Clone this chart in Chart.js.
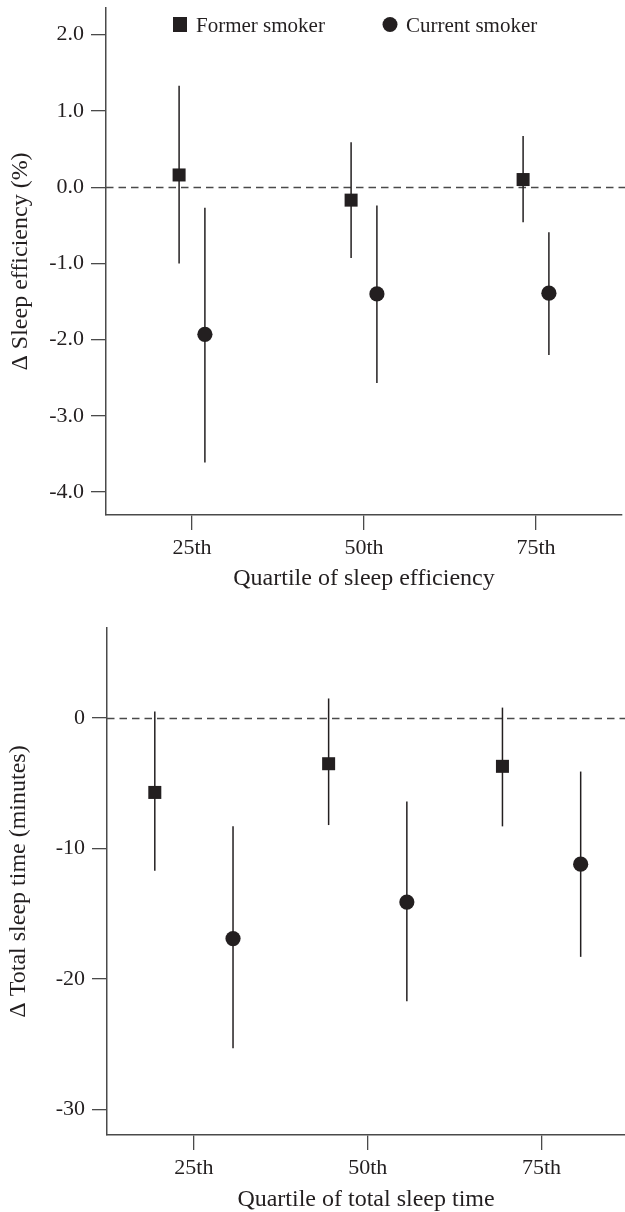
<!DOCTYPE html>
<html>
<head>
<meta charset="utf-8">
<script src="https://cdn.jsdelivr.net/npm/chart.js@4/dist/chart.umd.min.js"></script>
<style>
html, body { margin: 0; padding: 0; background: #fff; }
#top { position: absolute; left: 0; top: 0; width: 625px; height: 600px; }
#bottom { position: absolute; left: 0; top: 600px; width: 625px; height: 612px; }
</style>
</head>
<body>
<div id="top"><canvas id="effChart"></canvas></div>
<div id="bottom"><canvas id="tstChart"></canvas></div>
<script>
"use strict";

var quartiles = ['25th', '50th', '75th'];
var seriesNames = ['Former smoker', 'Current smoker'];

// change in sleep efficiency (%)
var effFormer = [0.16, -0.17, 0.10];
var effFormerLo = [-1.00, -0.93, -0.46];
var effFormerHi = [1.33, 0.59, 0.67];
var effCurrent = [-1.93, -1.40, -1.39];
var effCurrentLo = [-3.61, -2.57, -2.20];
var effCurrentHi = [-0.27, -0.24, -0.59];
var effTicks = [2, 1, 0, -1, -2, -3, -4];

// change in total sleep time (minutes)
var tstFormer = [-5.7, -3.5, -3.7];
var tstFormerLo = [-11.7, -8.2, -8.3];
var tstFormerHi = [0.5, 1.5, 0.8];
var tstCurrent = [-16.9, -14.1, -11.2];
var tstCurrentLo = [-25.3, -21.7, -18.3];
var tstCurrentHi = [-8.3, -6.4, -4.1];
var tstTicks = [0, -10, -20, -30];

var ink = '#231f20';
var axisGrey = '#4a4a4a';
var serif = 'Liberation Serif, Times New Roman, serif';

function points(vals, shift) {
    return vals.map(function (v, i) { return { x: i + 1 + shift, y: v }; });
}

function noPadding(s) {
    s.paddingTop = 0;
    s.paddingBottom = 0;
    s.paddingLeft = 0;
    s.paddingRight = 0;
}

// zero reference line + vertical confidence intervals
var errorBars = {
    id: 'errorBars',
    beforeDatasetsDraw: function (chart) {
        var ctx = chart.ctx, ys = chart.scales.y, area = chart.chartArea;
        ctx.save();
        ctx.strokeStyle = axisGrey;
        ctx.lineWidth = 1.3;
        ctx.setLineDash([7.5, 5]);
        var y0 = Math.round(ys.getPixelForValue(0)) + 0.5;
        ctx.beginPath();
        ctx.moveTo(area.left, y0);
        ctx.lineTo(chart.width, y0);
        ctx.stroke();
        ctx.setLineDash([]);
        ctx.strokeStyle = ink;
        ctx.lineWidth = 1.5;
        chart.data.datasets.forEach(function (ds, i) {
            chart.getDatasetMeta(i).data.forEach(function (pt, j) {
                ctx.beginPath();
                ctx.moveTo(pt.x, ys.getPixelForValue(ds.lo[j]));
                ctx.lineTo(pt.x, ys.getPixelForValue(ds.hi[j]));
                ctx.stroke();
            });
        });
        ctx.restore();
    }
};

// legend drawn inside the plot, above the top tick
var insideLegend = {
    id: 'insideLegend',
    afterDraw: function (chart, args, opts) {
        if (!opts.items) return;
        var ctx = chart.ctx;
        ctx.save();
        ctx.fillStyle = ink;
        ctx.font = '21px ' + serif;
        ctx.textBaseline = 'alphabetic';
        chart.data.datasets.forEach(function (ds, i) {
            var it = opts.items[i];
            ctx.beginPath();
            if (ds.pointStyle === 'rect') {
                ctx.rect(it.x - 7, it.y - 7.5, 14, 15);
            } else {
                ctx.arc(it.x, it.y, 7.5, 0, Math.PI * 2);
            }
            ctx.fill();
            ctx.fillText(ds.label, it.x + 16, it.y + 7.5);
        });
        ctx.restore();
    }
};

function makeChart(id, cfg) {
    var datasets = [
        {
            label: seriesNames[0],
            data: points(cfg.former, -cfg.shift),
            lo: cfg.formerLo, hi: cfg.formerHi,
            pointStyle: 'rect', pointRadius: 9.2,
            backgroundColor: ink, borderWidth: 0, showLine: false
        },
        {
            label: seriesNames[1],
            data: points(cfg.current, cfg.shift),
            lo: cfg.currentLo, hi: cfg.currentHi,
            pointStyle: 'circle', pointRadius: 7.6,
            backgroundColor: ink, borderWidth: 0, showLine: false
        }
    ];
    return new Chart(document.getElementById(id).getContext('2d'), {
        type: 'scatter',
        data: { datasets: datasets },
        plugins: [errorBars, insideLegend],
        options: {
            responsive: true,
            maintainAspectRatio: false,
            animation: false,
            devicePixelRatio: 1,
            events: [],
            layout: {
                autoPadding: false,
                padding: { top: cfg.padTop, right: cfg.padRight, left: 0, bottom: 0 }
            },
            plugins: {
                legend: { display: false },
                tooltip: { enabled: false },
                insideLegend: { items: cfg.legend }
            },
            scales: {
                x: {
                    type: 'linear',
                    min: 0.5,
                    max: cfg.xMax,
                    afterBuildTicks: function (s) {
                        s.ticks = quartiles.map(function (q, i) { return { value: i + 1 }; });
                    },
                    afterFit: function (s) { s.height = cfg.xHeight; noPadding(s); },
                    ticks: {
                        callback: function (v) { return quartiles[v - 1]; },
                        font: { family: serif, size: 22 },
                        color: ink,
                        padding: 5,
                        maxRotation: 0
                    },
                    grid: { drawOnChartArea: false, tickLength: 15, color: axisGrey, lineWidth: 1.3 },
                    border: { display: true, color: axisGrey, width: 1.5 },
                    title: {
                        display: true,
                        text: cfg.xTitle,
                        font: { family: serif, size: 24, lineHeight: 1 },
                        color: ink,
                        padding: { top: 0, bottom: cfg.xTitlePad }
                    }
                },
                y: {
                    min: cfg.yMin,
                    max: cfg.yMax,
                    afterBuildTicks: function (s) {
                        s.ticks = cfg.yTicks.map(function (v) { return { value: v }; });
                    },
                    afterFit: function (s) { s.width = cfg.yWidth; noPadding(s); },
                    ticks: {
                        callback: cfg.yFormat,
                        font: { family: serif, size: 22 },
                        color: ink,
                        padding: 7
                    },
                    grid: { drawOnChartArea: false, tickLength: 15, color: axisGrey, lineWidth: 1.3 },
                    border: { display: true, color: axisGrey, width: 1.5 },
                    title: {
                        display: true,
                        text: cfg.yTitle,
                        font: { family: serif, size: 24, lineHeight: 1 },
                        color: ink,
                        padding: { top: cfg.yTitlePad, bottom: 0 }
                    }
                }
            }
        }
    });
}

makeChart('effChart', {
    former: effFormer, formerLo: effFormerLo, formerHi: effFormerHi,
    current: effCurrent, currentLo: effCurrentLo, currentHi: effCurrentHi,
    yTicks: effTicks,
    yFormat: function (v) { return v.toFixed(1); },
    yMin: -4.3, yMax: 2.35,
    xMax: 3.5,
    shift: 0.075,
    padTop: 8, padRight: 3,
    xHeight: 85, yWidth: 106,
    xTitle: 'Quartile of sleep efficiency', xTitlePad: 9,
    yTitle: '\u0394 Sleep efficiency (%)', yTitlePad: 9,
    legend: [{ x: 180, y: 24.5 }, { x: 390, y: 24.5 }]
});

makeChart('tstChart', {
    former: tstFormer, formerLo: tstFormerLo, formerHi: tstFormerHi,
    current: tstCurrent, currentLo: tstCurrentLo, currentHi: tstCurrentHi,
    yTicks: tstTicks,
    yFormat: function (v) { return String(v); },
    yMin: -31.95, yMax: 6.9,
    xMax: 3.48,
    shift: 0.225,
    padTop: 28, padRight: 0,
    xHeight: 77, yWidth: 107,
    xTitle: 'Quartile of total sleep time', xTitlePad: 0,
    yTitle: '\u0394 Total sleep time (minutes)', yTitlePad: 7,
    legend: null
});
</script>
</body>
</html>
